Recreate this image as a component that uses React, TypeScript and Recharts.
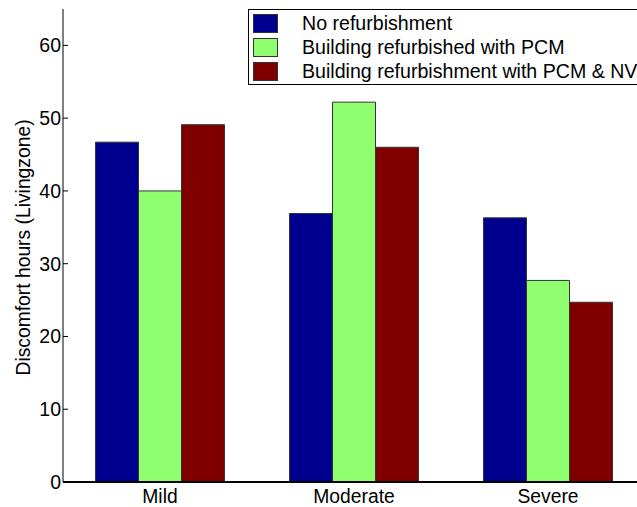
import React from 'react';
import { BarChart, Bar, XAxis, YAxis } from 'recharts';

const categories = ['Mild', 'Moderate', 'Severe'];
const noRefurb = [46.7, 36.9, 36.3];
const pcm = [40.0, 52.2, 27.7];
const pcmNv = [49.1, 46.0, 24.7];
const yTicks = [0, 10, 20, 30, 40, 50, 60];

const seriesNames = [
  'No refurbishment',
  'Building refurbished with PCM',
  'Building refurbishment with PCM & NV',
];
const colors = ['#00008f', '#8fff70', '#800000'];
const keys = ['a', 'b', 'c'];

const data = categories.map((c, i) => ({ name: c, a: noRefurb[i], b: pcm[i], c: pcmNv[i] }));

const FONT = '"Liberation Sans", Arial, Helvetica, sans-serif';

function LegendBox() {
  return (
    <div
      style={{
        position: 'absolute',
        left: 248,
        top: 9,
        width: 420,
        height: 76,
        background: '#fff',
        border: '1px solid #000',
        boxSizing: 'border-box',
        fontFamily: FONT,
        fontSize: 19.6,
        color: '#000',
      }}
    >
      {seriesNames.map((n, i) => (
        <div key={n} style={{ position: 'absolute', left: 0, top: 4 + i * 24, height: 20, width: 420 }}>
          <div
            style={{
              position: 'absolute',
              left: 4,
              top: 0,
              width: 25,
              height: 19,
              background: colors[i],
              border: '1px solid #333',
              boxSizing: 'border-box',
            }}
          />
          <div style={{ position: 'absolute', left: 53, top: -2, lineHeight: '22px', whiteSpace: 'nowrap' }}>{n}</div>
        </div>
      ))}
    </div>
  );
}

const TopTick = (p: any) => {
  const x = p.payload && typeof p.payload.coordinate === 'number' ? p.payload.coordinate : p.x;
  return <line x1={x} x2={x} y1={p.y} y2={p.y + 6} stroke="#555" strokeWidth={1.2} />;
};

export default function App() {
  return (
    <div style={{ position: 'absolute', left: 0, top: 0, width: 637, height: 507, overflow: 'hidden', background: '#fff' }}>
      <BarChart
        width={660}
        height={507}
        data={data}
        margin={{ top: 9, right: 15, left: 0, bottom: 0 }}
        barCategoryGap={32.5}
        barGap={0}
      >
        <XAxis
          dataKey="name"
          xAxisId="top"
          orientation="top"
          height={0}
          tick={TopTick}
          tickSize={0}
          tickMargin={0}
          tickLine={false}
          axisLine={{ stroke: '#000', strokeWidth: 1.5 }}
        />
        <XAxis
          dataKey="name"
          height={25}
          tickLine={false}
          tickSize={0}
          tickMargin={7}
          axisLine={{ stroke: '#000', strokeWidth: 2 }}
          tick={{ fill: '#000', fontSize: 19.3, fontFamily: FONT }}
        />
        <YAxis
          width={63}
          domain={[0, 65]}
          ticks={yTicks}
          interval={0}
          tickSize={-5}
          tickMargin={7}
          axisLine={{ stroke: '#000' }}
          tickLine={{ stroke: '#000' }}
          tick={{ fill: '#000', fontSize: 19.5, fontFamily: FONT }}
          label={{
            content: (props: any) => {
              const vb = props.viewBox || {};
              const cx = (vb.x || 0) + 23;
              const cy = (vb.y || 0) + (vb.height || 0) / 2 + 2;
              return (
                <text
                  x={cx}
                  y={cy}
                  transform={`rotate(-90 ${cx} ${cy})`}
                  textAnchor="middle"
                  dominantBaseline="central"
                  fontSize={19.3}
                  fontFamily={FONT}
                  fill="#000"
                >
                  Discomfort hours (Livingzone)
                </text>
              );
            },
          }}
        />
        {keys.map((k, i) => (
          <Bar key={k} dataKey={k} name={seriesNames[i]} fill={colors[i]} stroke="#333" strokeWidth={1} isAnimationActive={false} />
        ))}
      </BarChart>
      <LegendBox />
    </div>
  );
}
